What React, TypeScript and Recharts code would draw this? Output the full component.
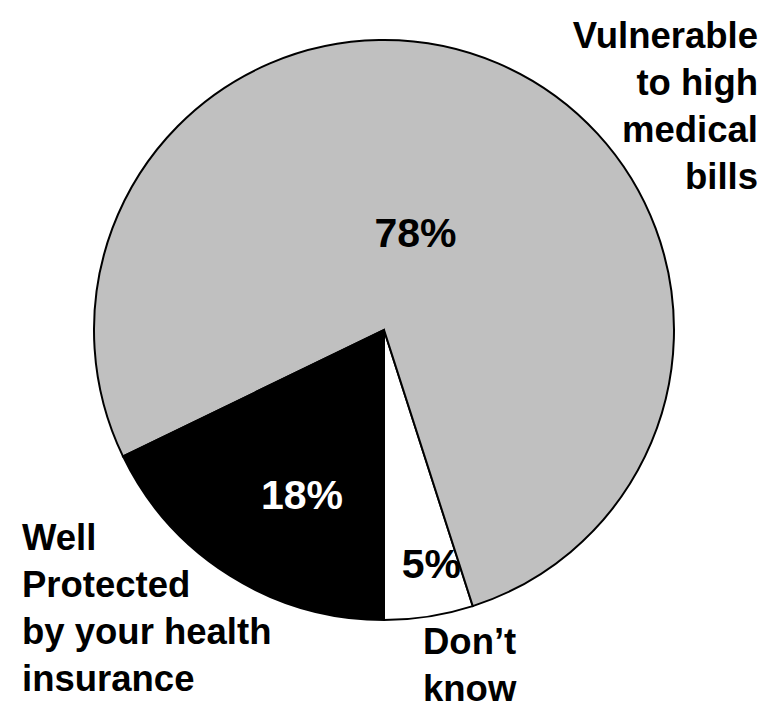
import { Cell, Pie, PieChart } from "recharts";

const CATEGORIES = ["Don’t know", "Vulnerable to high medical bills", "Well Protected by your health insurance"];
const VALUES = [5, 78, 18];
const VALUE_LABELS = ["5%", "78%", "18%"];
const NAME_LINES = [
  ["Don’t", "know"],
  ["Vulnerable", "to high", "medical", "bills"],
  ["Well", "Protected", "by your health", "insurance"],
];

const DATA = CATEGORIES.map((name, i) => ({ name, value: VALUES[i] }));

const FILLS = ["#FFFFFF", "#C0C0C0", "#000000"];
const VALUE_COLORS = ["#000000", "#000000", "#FFFFFF"];
const FONT = "'Liberation Sans', Arial, sans-serif";
const RADIAN = Math.PI / 180;

// where the % sits: fraction of radius, and shift from the slice's mid angle
const VALUE_SPOT = [
  { r: 0.82, da: 2.6 },
  { r: 0.354, da: 5.3 },
  { r: 0.634, da: 5.6 },
];
// category text blocks sit outside the pie
const NAME_SPOT = [
  { x: 423, y: 654, anchor: "start" },
  { x: 758, y: 48, anchor: "end" },
  { x: 22, y: 550, anchor: "start" },
];

function renderLabel(props: any) {
  const { cx, cy, midAngle, outerRadius, index } = props;
  const spot = VALUE_SPOT[index];
  const a = (midAngle + spot.da) * RADIAN;
  const x = cx + outerRadius * spot.r * Math.cos(-a);
  const y = cy + outerRadius * spot.r * Math.sin(-a);
  const name = NAME_SPOT[index];
  return (
    <g>
      <text
        x={x}
        y={y + 14.5}
        textAnchor="middle"
        fill={VALUE_COLORS[index]}
        fontFamily={FONT}
        fontWeight="bold"
        fontSize={41}
      >
        {VALUE_LABELS[index]}
      </text>
      <text x={name.x} y={name.y} textAnchor={name.anchor} fill="#000" fontFamily={FONT} fontWeight="bold" fontSize={36.5}>
        {NAME_LINES[index].map((line, j) => (
          <tspan key={j} x={name.x} dy={j === 0 ? 0 : 47}>
            {line}
          </tspan>
        ))}
      </text>
    </g>
  );
}

export default function App() {
  return (
    <div style={{ position: "absolute", left: 0, top: 0, width: 776, height: 719, background: "#fff" }}>
      <PieChart width={776} height={719} margin={{ top: 0, right: 0, bottom: 0, left: 0 }}>
        <Pie
          data={DATA}
          dataKey="value"
          nameKey="name"
          cx={384}
          cy={330}
          outerRadius={290}
          startAngle={270}
          endAngle={630}
          stroke="#000"
          strokeWidth={2}
          label={renderLabel}
          labelLine={false}
          isAnimationActive={false}
        >
          {DATA.map((d, i) => (
            <Cell key={d.name} fill={FILLS[i]} />
          ))}
        </Pie>
      </PieChart>
    </div>
  );
}
